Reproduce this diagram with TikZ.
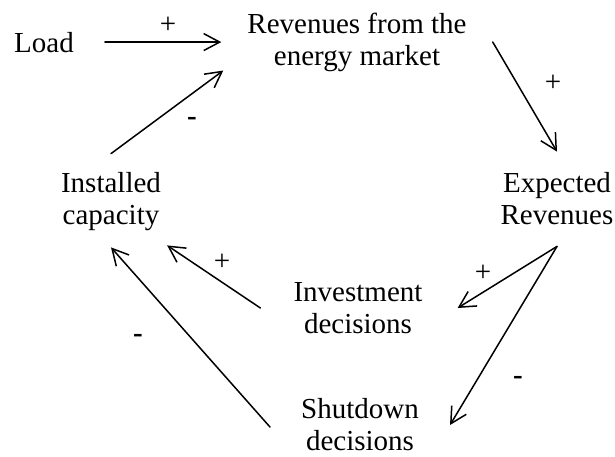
\documentclass[tikz,border=0pt]{standalone}
\usepackage{fontspec}
\setmainfont{Liberation Serif}
\usetikzlibrary{arrows.meta}

\begin{document}
\begin{tikzpicture}[x=1pt, y=-1pt, >={Straight Barb[length=16pt,width=17pt]}, line join=round, line cap=round,
    every node/.style={inner sep=0pt, align=center, font=\fontsize{29}{32}\selectfont},
    link/.style={->, line width=1.5pt},
    minus/.style={font=\fontsize{29}{32}\selectfont\bfseries}]
    \useasboundingbox (0,0) rectangle (615,456);
    % the six quantities
    \node[anchor=base] (load) at (44,52) {Load};
    \node (rev) at (357,42) {Revenues from the\\energy market};
    \node (exp) at (557,199) {Expected\\Revenues};
    \node (inst) at (111,202) {Installed\\capacity};
    \node (inv) at (358,308) {Investment\\decisions};
    \node (shut) at (360,425) {Shutdown\\decisions};
    \coordinate (fork) at ([yshift=-21pt]exp.south);
    % causal links
    \draw[link, shorten <=31pt, shorten >=26pt] (load.east) -- (load.east -| rev.west);
    \draw[link] ([yshift=19pt]inst.north) -- ([xshift=-24pt,yshift=1pt]rev.south west);
    \draw[link] ([xshift=26pt]rev.east) -- ([yshift=21pt]exp.north);
    \draw[link] (fork) -- ([xshift=35pt]inv.east);
    \draw[link] (fork) -- ([xshift=31pt]shut.east);
    \draw[link] ([xshift=-33pt]inv.west) -- ([xshift=6pt,yshift=-14pt]inst.south east);
    \draw[link] ([xshift=-31pt,yshift=-2pt]shut.west) -- ([yshift=-16pt]inst.south);
    % signs
    \node (pLoad) at (168,25) {+};
    \node[minus] (mInst) at (192,121) {-};
    \node (pRev) at (553,83) {+};
    \node (pInv) at (483,273) {+};
    \node[minus] (mShut) at (518,380) {-};
    \node (pInvInst) at (222,262) {+};
    \node[minus] (mShutInst) at (138,338) {-};
\end{tikzpicture}
\end{document}
